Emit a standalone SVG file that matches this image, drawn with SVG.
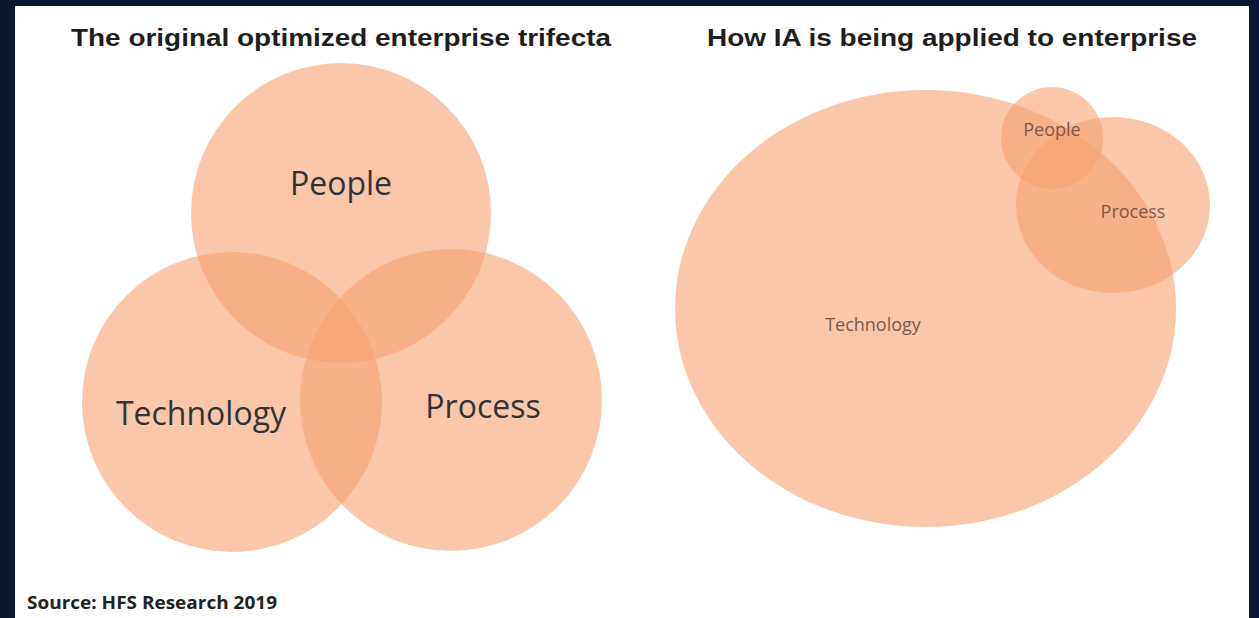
<svg xmlns="http://www.w3.org/2000/svg" width="1259" height="618" viewBox="0 0 1259 618">
  <style>
    .blob { fill: #f7a071; fill-opacity: 0.59; }
    .title { font-family: "Liberation Sans", Arial, sans-serif; font-weight: bold; font-size: 23px; fill: #1e1e1e; }
    .big { font-family: "Open Sans", "Noto Sans", sans-serif; font-size: 32px; fill: #333333; text-anchor: middle; }
    .small { font-family: "Open Sans", "Noto Sans", sans-serif; font-size: 18px; fill: #7d5a4c; text-anchor: middle; }
    .src { font-family: "Open Sans", "Noto Sans", sans-serif; font-weight: bold; font-size: 17px; fill: #222222; }
  </style>
  <rect x="0" y="0" width="1259" height="618" fill="#0a1931"/>
  <rect x="15" y="6" width="1234" height="612" fill="#ffffff"/>

  <text class="title" x="71" y="46" textLength="540" lengthAdjust="spacingAndGlyphs">The original optimized enterprise trifecta</text>
  <text class="title" x="707" y="46" textLength="490" lengthAdjust="spacingAndGlyphs">How IA is being applied to enterprise</text>

  <g id="left-people">
    <circle class="blob" cx="341" cy="213" r="150"/>
    <text class="big" x="341" y="195">People</text>
  </g>
  <g id="left-technology">
    <circle class="blob" cx="232" cy="402" r="150"/>
    <text class="big" x="201" y="425">Technology</text>
  </g>
  <g id="left-process">
    <circle class="blob" cx="451" cy="400" r="151"/>
    <text class="big" x="483" y="418">Process</text>
  </g>

  <g id="right-technology">
    <ellipse class="blob" cx="925.5" cy="308.5" rx="250.5" ry="218.5"/>
    <text class="small" x="873" y="331">Technology</text>
  </g>
  <g id="right-process">
    <ellipse class="blob" cx="1113" cy="205" rx="97" ry="88"/>
    <text class="small" x="1133" y="218">Process</text>
  </g>
  <g id="right-people">
    <circle class="blob" cx="1052" cy="138" r="51"/>
    <text class="small" x="1052" y="136">People</text>
  </g>

  <g id="connectors"/>

  <text class="src" x="27" y="609" textLength="250" lengthAdjust="spacingAndGlyphs">Source: HFS Research 2019</text>
</svg>
